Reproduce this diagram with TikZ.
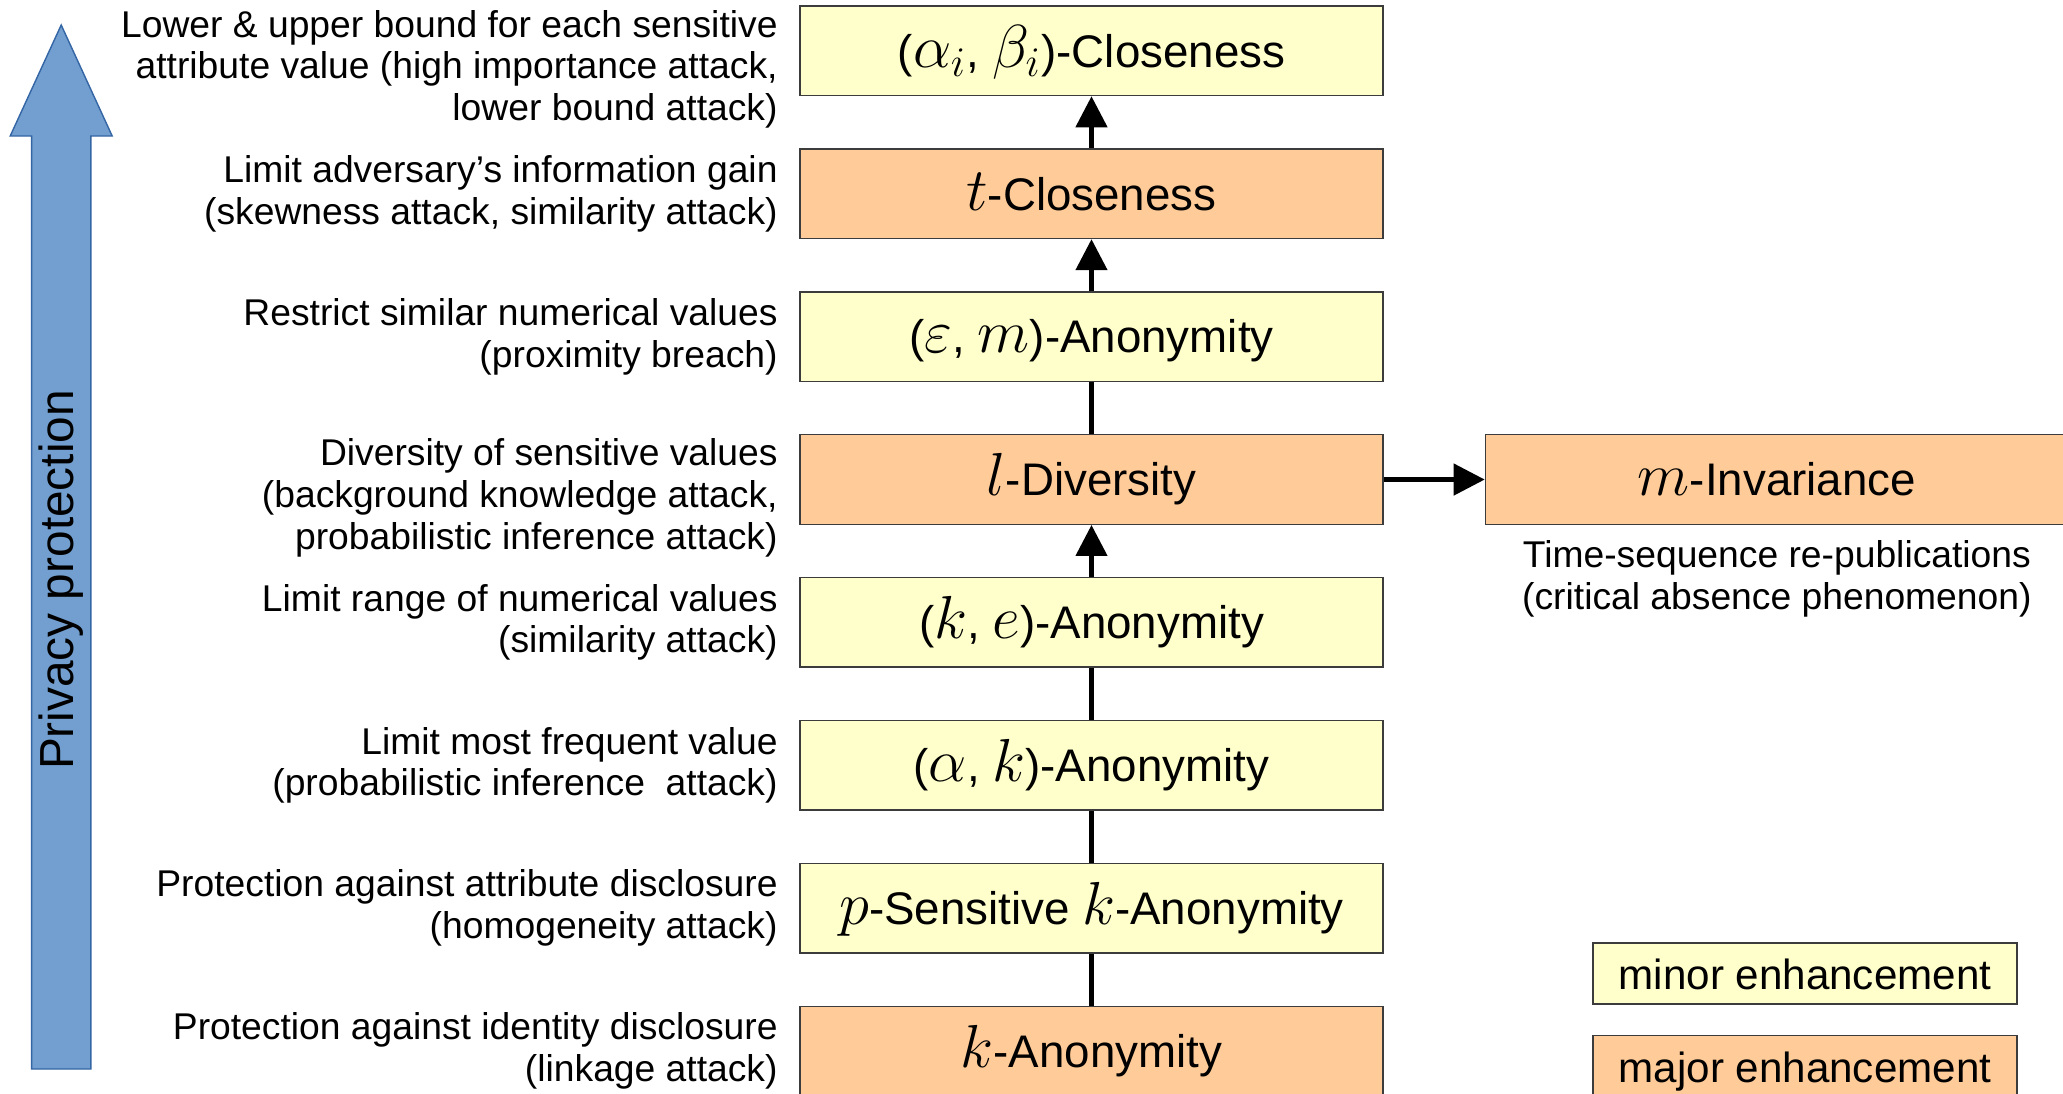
\documentclass[tikz,border=0pt]{standalone}
\usepackage{fontspec}
\setmainfont{Liberation Sans}
\usepackage{xcolor}
\usepackage{tikz}
\usetikzlibrary{positioning, arrows.meta}
\definecolor{minorfill}{HTML}{FFFFCC}
\definecolor{majorfill}{HTML}{FFCC99}
\definecolor{boxline}{HTML}{3C3C3C}
\definecolor{skyblue}{HTML}{729FCF}
\definecolor{skyedge}{HTML}{3465A4}
\newcommand{\mvar}[1]{{\fontsize{16.5}{16.5}\selectfont$#1$}}

\begin{document}
\begin{tikzpicture}[
  modelbox/.style={draw=boxline, line width=0.4pt, minimum width=5.83cm, minimum height=0.895cm,
    inner sep=0pt, text height=12pt, text depth=2.7pt, font=\fontsize{13}{15}\selectfont},
  minorbox/.style={modelbox, fill=minorfill},
  majorbox/.style={modelbox, fill=majorfill},
  note/.style={align=right, inner sep=0pt, font=\fontsize{10.6}{11.9}\selectfont},
  link/.style={line width=1.3pt},
  uplink/.style={link, -{Triangle[length=0.31cm, width=0.31cm]}}]
  \useasboundingbox (0,0) rectangle (20.63,-10.93);

  % big arrow on the left
  \draw[fill=skyblue, draw=skyedge, line width=0.4pt] (0.316,-10.69) -- (0.316,-1.36) -- (0.102,-1.36)
    -- (0.612,-0.25) -- (1.122,-1.36) -- (0.908,-1.36) -- (0.908,-10.69) -- cycle;
  \node[rotate=90, inner sep=0pt, font=\fontsize{13.6}{16}\selectfont] (privacy) at (0.61,-5.80) {Privacy protection};

  % the models, strongest on top
  \node[minorbox] (abcl) at (10.915,-0.508) {(\mvar{\alpha_i}, \mvar{\beta_i})-Closeness};
  \node[majorbox, below=0.52cm of abcl] (tcl) {\mvar{t}-Closeness};
  \node[minorbox, below=0.52cm of tcl] (emanon) {(\mvar{\varepsilon}, \mvar{m})-Anonymity};
  \node[majorbox, below=0.52cm of emanon] (ldiv) {\mvar{l}-Diversity};
  \node[minorbox, below=0.52cm of ldiv] (keanon) {(\mvar{k}, \mvar{e})-Anonymity};
  \node[minorbox, below=0.52cm of keanon] (akanon) {(\mvar{\alpha}, \mvar{k})-Anonymity};
  \node[minorbox, below=0.52cm of akanon] (psens) {\mvar{p}-Sensitive \mvar{k}-Anonymity};
  \node[majorbox, below=0.52cm of psens] (kanon) {\mvar{k}-Anonymity};
  \node[majorbox, right=1.01cm of ldiv] (minv) {\mvar{m}-Invariance};

  % what each one protects against
  \node[note, left=0.21cm of abcl.west, yshift=-0.185cm] (abclnote)
    {Lower \& upper bound for each sensitive\\ attribute value (high importance attack,\\ lower bound attack)};
  \node[note, left=0.21cm of tcl.west] (tclnote)
    {Limit adversary’s information gain\\ (skewness attack, similarity attack)};
  \node[note, left=0.21cm of emanon.west] (emanonnote)
    {Restrict similar numerical values\\ (proximity breach)};
  \node[note, left=0.21cm of ldiv.west, yshift=-0.185cm] (ldivnote)
    {Diversity of sensitive values\\ (background knowledge attack,\\ probabilistic inference attack)};
  \node[note, left=0.21cm of keanon.west] (keanonnote)
    {Limit range of numerical values\\ (similarity attack)};
  \node[note, left=0.21cm of akanon.west] (akanonnote)
    {Limit most frequent value\\ (probabilistic inference\ \ attack)};
  \node[note, left=0.21cm of psens.west] (psensnote)
    {Protection against attribute disclosure\\ (homogeneity attack)};
  \node[note, left=0.21cm of kanon.west] (kanonnote)
    {Protection against identity disclosure\\ (linkage attack)};
  \node[note, align=center, below=0.15cm of minv] (minvnote)
    {Time-sequence re-publications\\ (critical absence phenomenon)};

  % legend
  \node[minorbox, minimum width=4.24cm, minimum height=0.61cm, font=\fontsize{12}{14}\selectfont]
    (minorkey) at (18.05,-9.735) {minor enhancement};
  \node[majorbox, minimum width=4.24cm, minimum height=0.61cm, font=\fontsize{12}{14}\selectfont,
    below=0.30cm of minorkey] (majorkey) {major enhancement};

  \draw[uplink] (tcl) -- (abcl);
  \draw[uplink] (emanon) -- (tcl);
  \draw[link] (ldiv) -- (emanon);
  \draw[uplink] (keanon) -- (ldiv);
  \draw[link] (akanon) -- (keanon);
  \draw[link] (psens) -- (akanon);
  \draw[link] (kanon) -- (psens);
  \draw[uplink] (ldiv) -- (minv);
\end{tikzpicture}
\end{document}
